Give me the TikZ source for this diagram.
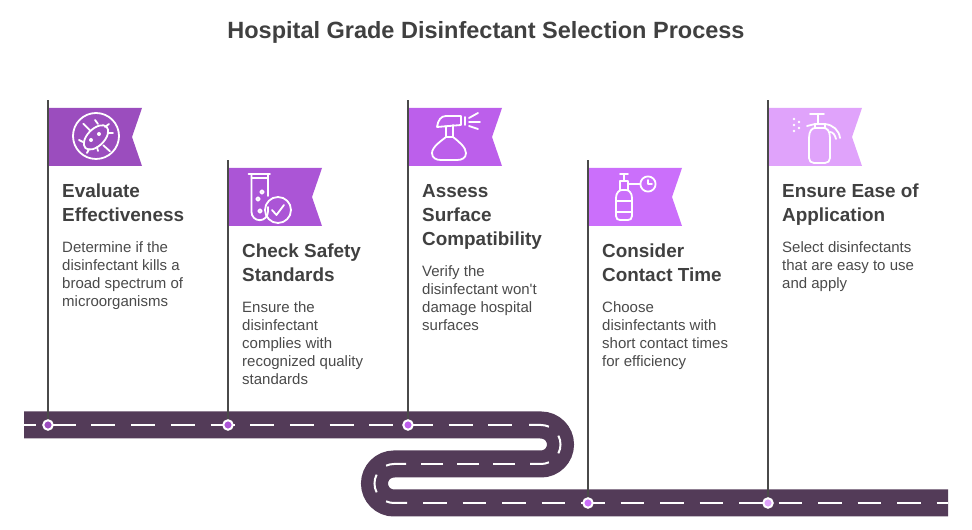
\documentclass[tikz,border=0pt]{standalone}
\usepackage{fontspec}
\setmainfont{Liberation Sans}
\definecolor{roadcol}{HTML}{533B58}
\definecolor{stemcol}{HTML}{4A4A4A}
\definecolor{headcol}{HTML}{404040}
\definecolor{flagA}{HTML}{9B4DBE}
\definecolor{flagB}{HTML}{AB55D6}
\definecolor{flagC}{HTML}{BC5FEB}
\definecolor{flagD}{HTML}{CB6FFB}
\definecolor{flagE}{HTML}{E0A3FB}
\tikzset{
  stem/.style={draw=stemcol,line width=1.8},
  iconline/.style={draw=white,line width=1.8,line cap=round,line join=round},
  roadline/.style={draw=white,line width=2},
  roaddot/.style={circle,draw=white,line width=2,minimum size=9.5,inner sep=0},
  headtext/.style={anchor=north west,align=left,inner sep=0,text=headcol,
    font=\fontsize{18.9}{24}\selectfont\bfseries},
  bodytext/.style={anchor=north west,align=left,inner sep=0,text=stemcol,
    font=\fontsize{15}{18}\selectfont},
}
\begin{document}
\begin{tikzpicture}[x=1pt,y=1pt]
\useasboundingbox (0,0) rectangle (972,530);
\node[text=headcol,font=\fontsize{23.5}{28}\selectfont\bfseries] (title) at (486,498)
{Hospital Grade Disinfectant Selection Process};
%road
\draw[roadcol,line width=27] (24,105)--(541,105) arc(90:-90:19.5)--(394,66)
arc(90:270:19.5)--(948,27);
\draw[roadline,dash pattern=on 24 off 15.7,dash phase=12] (24,105)--(512.5,105);
\draw[roadline] (529,105)--(541,105) arc(90:66:19.5);
\draw[roadline] ([shift={(27:19.5)}]541,85.5) arc(27:-27:19.5);
\draw[roadline] ([shift={(-66:19.5)}]541,85.5) arc(-66:-90:19.5)--(530,66);
\draw[roadline,dash pattern=on 22 off 14] (515,66)--(421,66);
\draw[roadline] (406,66)--(394,66) arc(90:114:19.5);
\draw[roadline] ([shift={(153:19.5)}]394,46.5) arc(153:207:19.5);
\draw[roadline] ([shift={(246:19.5)}]394,46.5) arc(246:270:19.5)--(407,27);
\draw[roadline,dash pattern=on 23.5 off 16] (423,27)--(948,27);
%flags
\fill[flagA] (48,422)--(142,422)--(132,393)--(142,364)--(48,364)--cycle;
\fill[flagB] (228,362)--(322,362)--(312,333)--(322,304)--(228,304)--cycle;
\fill[flagC] (408,422)--(502,422)--(492,393)--(502,364)--(408,364)--cycle;
\fill[flagD] (588,362)--(682,362)--(672,333)--(682,304)--(588,304)--cycle;
\fill[flagE] (768,422)--(862,422)--(852,393)--(862,364)--(768,364)--cycle;
%stems
\coordinate (topA) at (48,430);
\coordinate (topB) at (228,370);
\coordinate (topC) at (408,430);
\coordinate (topD) at (588,370);
\coordinate (topE) at (768,430);
\node[roaddot,fill=flagA] (dotA) at (48,105) {};
\node[roaddot,fill=flagB] (dotB) at (228,105) {};
\node[roaddot,fill=flagC] (dotC) at (408,105) {};
\node[roaddot,fill=flagD] (dotD) at (588,27) {};
\node[roaddot,fill=flagE] (dotE) at (768,27) {};
\draw[stem] (dotA)--(topA);
\draw[stem] (dotB)--(topB);
\draw[stem] (dotC)--(topC);
\draw[stem] (dotD)--(topD);
\draw[stem] (dotE)--(topE);
%texts
\node[headtext] (headA) at (62,346) {Evaluate\\Effectiveness};
\node[bodytext] at ([yshift=-57.5]headA.north west) (bodyA)
{Determine if the\\disinfectant kills a\\broad spectrum of\\microorganisms};
\node[headtext] (headB) at (242,286) {Check Safety\\Standards};
\node[bodytext] at ([yshift=-57.5]headB.north west) (bodyB)
{Ensure the\\disinfectant\\complies with\\recognized quality\\standards};
\node[headtext] (headC) at (422,346) {Assess\\Surface\\Compatibility};
\node[bodytext] at ([yshift=-81.5]headC.north west) (bodyC)
{Verify the\\disinfectant won\textquotesingle t\\damage hospital\\surfaces};
\node[headtext] (headD) at (602,286) {Consider\\Contact Time};
\node[bodytext] at ([yshift=-57.5]headD.north west) (bodyD)
{Choose\\disinfectants with\\short contact times\\for efficiency};
\node[headtext] (headE) at (782,346) {Ensure Ease of\\Application};
\node[bodytext] at ([yshift=-57.5]headE.north west) (bodyE)
{Select disinfectants\\that are easy to use\\and apply};
%microbe icon
\begin{scope}[shift={(96,394)}]
\draw[iconline] (0,0) circle (23);
\draw[iconline,rotate=45] (-1,-1) ellipse (15 and 8.5);
\draw[iconline] (-12.7,12.3)--(-6,5.7) (7.3,-9.3)--(14,-15.3);
\draw[iconline] (2,12)--(-1,16) (9,9)--(13,12) (12,3)--(17,3) (-13,-6)--(-17,-4)
(-7,-13)--(-9,-17) (1,-11)--(2,-15);
\fill[white] (-5,-4) circle (2) (3,2) circle (2);
\end{scope}
%test tube icon
\begin{scope}[shift={(0,530)}]
\draw[iconline] (248.5,-174)--(270,-174) (251.5,-174)--(251.5,-212)
arc(180:360:8.2)--(268,-207) (268,-174)--(268,-196);
\draw[iconline] (251.5,-178)--(268,-178);
\draw[iconline] (278,-210) circle (13);
\draw[iconline] (272,-210)--(276.5,-215)--(284,-205);
\draw[iconline] (262,-192) circle (1.8) (258,-199) circle (1.8) (260,-211) circle (1.8);
%spray icon
\draw[iconline] (437,-127) .. controls (438,-120) and (441,-116) .. (446,-116)--(461,-116)--(461,-125)--(437,-127);
\draw[iconline] (446,-126)--(446,-137) (453,-125)--(453,-137);
\draw[iconline] (446,-137) .. controls (441,-141) and (432,-147) .. (432,-153)
.. controls (432,-158) and (436,-160) .. (441,-160)--(457,-160)
.. controls (462,-160) and (466,-158) .. (466,-153)
.. controls (466,-147) and (458,-141) .. (453,-137)--cycle;
\draw[iconline] (465,-117)--(465,-125);
\draw[iconline] (469,-118)--(478,-113) (469,-122)--(480,-122) (469,-126)--(478,-129);
%bottle and clock icon
\draw[iconline] (616,-198) .. controls (616,-193) and (619,-190) .. (622,-190)--(626,-190)
.. controls (629,-190) and (632,-193) .. (632,-198)--(632,-216)
.. controls (632,-219) and (630,-220) .. (628,-220)--(620,-220)
.. controls (618,-220) and (616,-219) .. (616,-216)--cycle;
\draw[iconline] (616,-201)--(632,-201) (616,-212)--(632,-212);
\draw[iconline] (620,-190)--(620,-181)--(628,-181)--(628,-190);
\draw[iconline] (620,-174)--(628,-174) (624,-174)--(624,-181);
\draw[iconline] (628,-184)--(640.5,-184);
\draw[iconline] (648,-184) circle (7.6);
\draw[iconline] (648,-180)--(648,-184)--(652,-184);
%pump sprayer icon
\draw[iconline] (809,-138) .. controls (809,-131) and (812,-128) .. (815,-128)--(824,-128)
.. controls (827,-128) and (830,-131) .. (830,-138)--(830,-158)
.. controls (830,-161) and (828,-163) .. (825,-163)--(814,-163)
.. controls (811,-163) and (809,-161) .. (809,-158)--cycle;
\draw[iconline] (815,-128)--(815,-124)--(825,-124)--(825,-128);
\draw[iconline] (810,-114)--(824,-114) (818,-114)--(818,-124);
\draw[iconline] (807,-126)--(815,-124) (825,-124) .. controls (833,-125) and (839,-130) .. (840,-138);
\draw[iconline] (830,-132) .. controls (833,-132) and (835,-135) .. (836,-139);
\fill[white] (794,-119) circle (1.3) (794,-125) circle (1.3) (794,-131) circle (1.3)
(799,-122) circle (1.3) (799,-128) circle (1.3);
\end{scope}
\end{tikzpicture}
\end{document}
